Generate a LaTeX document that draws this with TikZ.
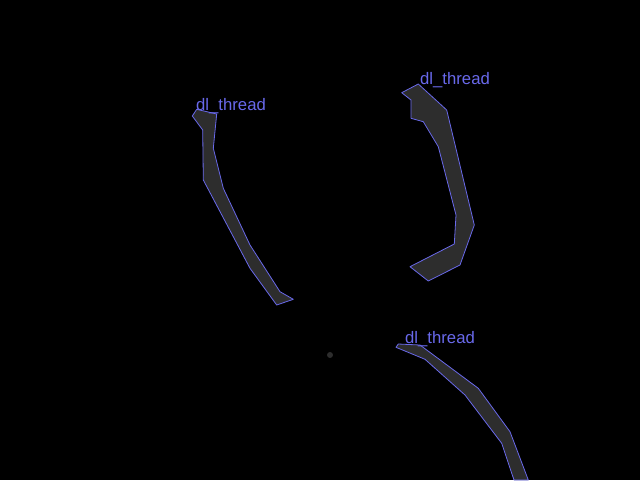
\documentclass[tikz,border=0pt]{standalone}
\usepackage{fontspec}
\setmainfont{Liberation Sans}
\usepackage{xcolor}
\definecolor{maskfill}{RGB}{45,45,45}
\definecolor{maskline}{RGB}{105,105,235}
\tikzset{>=latex}

\begin{document}
\begin{tikzpicture}[x=1pt, y=-1pt]
                        % one pixel = 1pt, y counted downwards
                        \tikzstyle{mask}=[fill=maskfill, draw=maskline, line width=0.8pt, line join=round]
                        \tikzstyle{tag}=[text=maskline, font=\fontsize{16.7}{16.7}\selectfont, anchor=base west, inner sep=0pt]
                        \fill[black] (0,0) rectangle (640,480);
                        \useasboundingbox (0,0) rectangle (640,480);

                        % left thread
                        \draw[mask] (192.3,116) -- (196.7,109.3) -- (216.7,114) -- (213.3,148.3)
                                -- (223.3,188.3) -- (250,245) -- (280,291.7) -- (293.3,299.3)
                                -- (276.7,305) -- (250,268.3) -- (203.3,180) -- (202.7,130) -- cycle;
                        \node[tag] (tagA) at (196,110) {dl\_thread};

                        % right thread
                        \draw[mask] (401.7,92.7) -- (418.3,84) -- (446.7,110) -- (474.3,225)
                                -- (460,265) -- (428.3,281) -- (410,266.7) -- (454.3,244)
                                -- (456,215) -- (438.3,146.7) -- (423.3,121.7) -- (411,118.3)
                                -- (411,100) -- cycle;
                        \node[tag] (tagB) at (420,84) {dl\_thread};

                        % lower thread
                        \draw[mask] (396,347.3) -- (398.3,344) -- (420,345) -- (478.3,388.3)
                                -- (510,431.7) -- (528.3,480) -- (514,480) -- (501.7,443.3)
                                -- (465,395) -- (425,359.3) -- cycle;
                        \node[tag] (tagC) at (405,343) {dl\_thread};

                        \fill[maskfill] (330,355) circle (3);
                \end{tikzpicture}
\end{document}
